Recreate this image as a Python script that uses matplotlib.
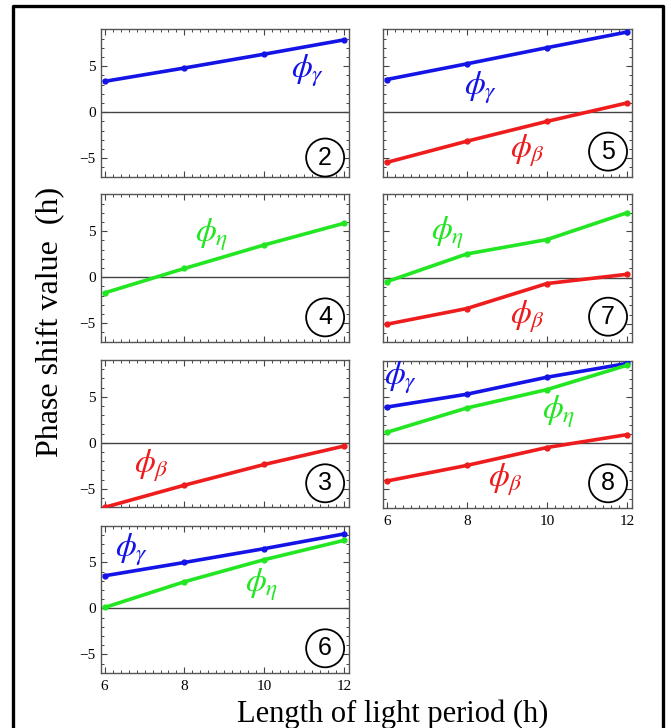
import matplotlib
matplotlib.use("Agg")
import matplotlib.pyplot as plt
from matplotlib.lines import Line2D
from matplotlib.ticker import MultipleLocator

plt.rcParams['font.family'] = ['Liberation Serif', 'DejaVu Serif']
plt.rcParams['mathtext.fontset'] = 'stix'

W, H = 671, 728

hours = [6, 8, 10, 12]

p2_gamma = [3.35, 4.8, 6.3, 7.85]
p4_eta = [-1.7, 0.95, 3.5, 5.85]
p3_beta = [-7.0, -4.6, -2.35, -0.35]
p6_gamma = [3.55, 5.0, 6.5, 8.1]
p6_eta = [0.1, 2.9, 5.3, 7.4]
p5_gamma = [3.55, 5.25, 7.0, 8.7]
p5_beta = [-5.45, -3.15, -1.0, 1.0]
p7_eta = [-0.45, 2.55, 4.1, 7.0]
p7_beta = [-5.05, -3.35, -0.65, 0.35]
p8_gamma = [3.95, 5.35, 7.2, 8.7]
p8_eta = [1.2, 3.85, 5.85, 8.5]
p8_beta = [-4.1, -2.4, -0.45, 0.95]

col = {'gamma': '#1414e6', 'eta': '#22e622', 'beta': '#ee1c1c'}
sym = {'gamma': r'$\phi_\gamma$', 'eta': r'$\phi_\eta$', 'beta': r'$\phi_\beta$'}

# panel: label, pixel box (x0, y0, x1, y1), series with label positions, circle y frac
panels = [
    ('2', (100.7, 29.3, 348.7, 176.7), [('gamma', p2_gamma, (11.1, 4.5))], 0.13, 'L', False),
    ('4', (100.7, 194.3, 348.7, 341.7), [('eta', p4_eta, (8.68, 4.6))], 0.165, 'L', False),
    ('3', (100.7, 360.0, 348.7, 507.3), [('beta', p3_beta, (7.18, -2.5))], 0.163, 'L', False),
    ('6', (100.7, 525.7, 348.7, 672.7), [('gamma', p6_gamma, (6.68, 6.4)),
                                         ('eta', p6_eta, (9.93, 2.55))], 0.166, 'L', True),
    ('5', (382.7, 29.3, 631.7, 176.7), [('gamma', p5_gamma, (8.35, 2.7)),
                                        ('beta', p5_beta, (9.52, -4.2))], 0.17, 'R', False),
    ('7', (382.7, 194.3, 631.7, 342.3), [('eta', p7_eta, (7.52, 4.8)),
                                         ('beta', p7_beta, (9.52, -4.2))], 0.173, 'R', False),
    ('8', (382.7, 360.7, 631.7, 507.7), [('gamma', p8_gamma, (6.35, 7.1)),
                                         ('eta', p8_eta, (10.3, 3.5)),
                                         ('beta', p8_beta, (8.97, -3.9))], 0.166, 'R', True),
]

fig = plt.figure(figsize=(W / 100, H / 100), dpi=100)

for num, (x0, y0, x1, y1), series, cy, side, xlab in panels:
    ax = fig.add_axes([x0 / W, 1 - y1 / H, (x1 - x0) / W, (y1 - y0) / H])
    ax.set_xlim(5.9, 12.12)
    ax.set_ylim(-7, 9)
    ax.axhline(0, color='#444444', lw=1.0, zorder=1)
    for key, vals, (tx, ty) in series:
        ax.plot(hours, vals, color=col[key], lw=2.6, marker='o', ms=3.5, zorder=3)
        ax.text(tx, ty, sym[key], color=col[key], fontsize=24, ha='center', va='center')
    ax.text(0.905, cy, num, transform=ax.transAxes, fontsize=18, ha='center', va='center',
            family='Liberation Sans',
            bbox=dict(boxstyle='circle,pad=0.28', fc='white', ec='black', lw=1.3))
    ax.xaxis.set_major_locator(MultipleLocator(2))
    ax.xaxis.set_minor_locator(MultipleLocator(0.2))
    ax.yaxis.set_major_locator(MultipleLocator(5))
    ax.yaxis.set_minor_locator(MultipleLocator(1))
    ax.tick_params(which='both', direction='in', top=True, right=True, labelsize=11,
                   color='#444444')
    ax.tick_params(which='major', length=4, width=0.8)
    ax.tick_params(which='minor', length=2.5, width=0.7)
    ax.tick_params(axis='x', pad=5)
    for s in ax.spines.values():
        s.set_color('#555555')
        s.set_linewidth(1.0)
    if not xlab:
        ax.set_xticklabels([])
    if side == 'R':
        ax.set_yticklabels([])

fig.text(393 / W, 1 - 714 / H, 'Length of light period (h)', fontsize=22,
         ha='center', va='center')
fig.text(50 / W, 1 - 322 / H, 'Phase shift value  (h)', fontsize=23,
         ha='center', va='center', rotation=90)

# outer frame (open at bottom)
fl, ft, fr = 12.5 / W, 1 - 6 / H, 663 / W
fig.add_artist(Line2D([fl, fl, fr, fr], [0, ft, ft, 0], transform=fig.transFigure,
                      color='black', lw=2.4))

fig.savefig('out.png', dpi=100)
